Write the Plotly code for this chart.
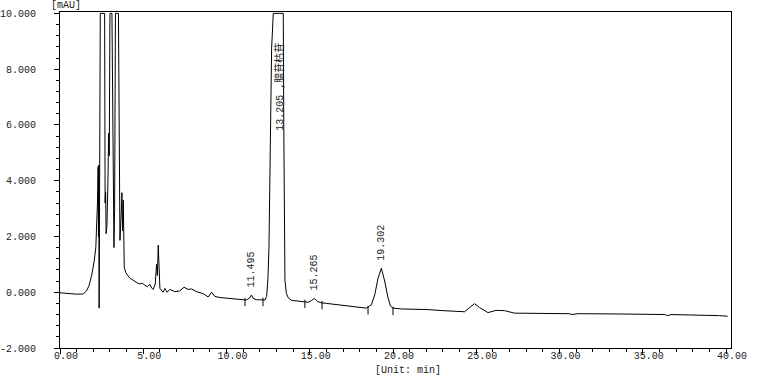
import plotly.graph_objects as go

# Chromatogram trace (time in min, signal in mAU)
time_min = [0.0, 0.5, 1.0, 1.4, 1.6, 1.75, 1.9, 2.05, 2.15, 2.25, 2.29, 2.31, 2.33, 2.35, 2.38,
            2.42, 2.68, 2.71, 2.74, 2.77, 2.82, 2.88, 2.92, 2.96, 3.0, 3.12, 3.18, 3.24, 3.28,
            3.33, 3.51, 3.55, 3.6, 3.66, 3.72, 3.76, 3.8, 3.86, 3.95, 4.05, 4.2, 4.35, 4.5,
            4.65, 4.8, 4.95, 5.1, 5.25, 5.4, 5.5, 5.6, 5.72, 5.8, 5.85, 5.9, 5.95, 6.0,
            6.19, 6.3, 6.43, 6.6, 6.9, 7.2, 7.45, 7.7, 7.9, 8.2, 8.6, 8.9, 9.1, 9.3, 9.6,
            10.2, 10.5, 11.2, 11.4, 11.5, 11.6, 11.8, 12.0, 12.31, 12.41, 12.49, 12.55, 12.61,
            12.71, 12.81, 13.41, 13.44, 13.47, 13.51, 13.6, 13.71, 13.9, 14.5, 14.9, 15.1,
            15.27, 15.45, 15.7, 16.0, 16.5, 17.0, 17.5, 18.0, 18.4, 18.7, 18.9, 19.1, 19.3,
            19.5, 19.7, 19.85, 20.0, 20.5, 21.0, 22.0, 23.0, 24.3, 24.6, 24.9, 25.2, 25.7,
            26.2, 26.7, 27.3, 30.6, 30.75, 31.1, 33.6, 36.3, 36.5, 36.7, 39.6, 39.9, 40.1]
signal_mau = [-0.02, -0.05, -0.07, -0.06, 0.05, 0.25, 0.6, 1.1, 1.6, 3.2, 4.5, 2.0, 4.56, -0.57, 3.5,
              10.0, 10.0, 3.2, 3.6, 2.1, 2.4, 4.0, 5.7, 4.9, 10.0, 10.0, 4.0, 1.6, 3.0,
              10.0, 10.0, 4.0, 1.86, 2.6, 3.57, 2.2, 3.3, 0.9, 0.7, 0.62, 0.5, 0.45, 0.38,
              0.33, 0.3, 0.32, 0.25, 0.2, 0.28, 0.15, 0.1, 0.3, 1.0, 0.6, 1.69, 0.5, 0.14,
              0.0, 0.14, 0.0, 0.1, 0.02, 0.05, 0.18, 0.1, 0.12, 0.02, -0.05, -0.17, 0.0, -0.15, -0.19,
              -0.22, -0.26, -0.28, -0.2, -0.1, -0.22, -0.27, -0.27, -0.28, -0.15, 0.5, 1.6, 4.0,
              8.75, 10.0, 10.0, 6.0, 2.2, 0.43, -0.05, -0.2, -0.29, -0.33, -0.36, -0.3,
              -0.22, -0.33, -0.38, -0.4, -0.44, -0.48, -0.52, -0.55, -0.57, -0.45, -0.1, 0.5, 0.86,
              0.4, -0.2, -0.5, -0.57, -0.6, -0.6, -0.62, -0.66, -0.7, -0.55, -0.41, -0.55, -0.73,
              -0.65, -0.66, -0.75, -0.77, -0.8, -0.77, -0.78, -0.8, -0.84, -0.8, -0.84, -0.86, -0.86]

# Integration event marks (peak start/end)
event_times = [11.11, 12.19, 14.71, 15.74, 18.5, 20.0]
event_levels = [-0.35, -0.35, -0.42, -0.46, -0.65, -0.67]

# Peak labels
peak_times = [11.495, 13.205, 15.265, 19.302]
peak_label_levels = [-0.1, 5.5, -0.22, 0.86]
peak_labels = ["11.495", "13.205 ,腺苷枯苷", "15.265", "19.302"]

x_ticks = [0, 5, 10, 15, 20, 25, 30, 35, 40]
x_tick_text = ["0.00", "5.00", "10.00", "15.00", "20.00", "25.00", "30.00", "35.00", "40.00"]
y_ticks = [-2, 0, 2, 4, 6, 8, 10]
y_tick_text = ["-2.000", "0.000", "2.000", "4.000", "6.000", "8.000", "10.000"]

FONT = "Liberation Mono, DejaVu Sans Mono, Noto Sans CJK SC, monospace"

fig = go.Figure()
fig.add_trace(go.Scatter(x=time_min, y=signal_mau, mode="lines",
                         line=dict(color="black", width=1), hoverinfo="skip", showlegend=False))
fig.add_trace(go.Scatter(x=event_times, y=event_levels, mode="markers",
                         marker=dict(symbol="line-ns", size=6, line=dict(color="black", width=1)),
                         hoverinfo="skip", showlegend=False))

for t, lv, txt in zip(peak_times, peak_label_levels, peak_labels):
    fig.add_annotation(x=t, y=lv, text=txt, textangle=-90, showarrow=False,
                       xanchor="center", yanchor="bottom", yshift=6,
                       font=dict(family=FONT, size=10, color="#222"))

fig.add_annotation(xref="paper", yref="paper", x=0.009, y=1, yshift=7, text="[mAU]",
                   showarrow=False, xanchor="center", yanchor="middle",
                   font=dict(family=FONT, size=10, color="#222"))
fig.add_annotation(xref="paper", yref="paper", x=0.519, y=0, yshift=-22, text="[Unit: min]",
                   showarrow=False, xanchor="center", yanchor="middle",
                   font=dict(family=FONT, size=10, color="#222"))

fig.update_layout(
    width=760, height=381,
    margin=dict(l=60, r=29, t=12, b=33, autoexpand=False),
    paper_bgcolor="white", plot_bgcolor="white",
    font=dict(family=FONT, size=10, color="#222"),
    showlegend=False,
)
fig.update_xaxes(range=[0, 40.3], tickvals=x_ticks, ticktext=x_tick_text, automargin=False,
                 showgrid=False, zeroline=False, showline=True, mirror=True,
                 linecolor="black", linewidth=1, ticks="outside", ticklen=5,
                 tickcolor="black", ticklabelshift=6, ticklabelstandoff=-7,
                 minor=dict(dtick=1, tick0=0, ticks="outside", ticklen=3, tickcolor="black", showgrid=False))
fig.update_yaxes(range=[-2, 10.05], tickvals=y_ticks, ticktext=y_tick_text, automargin=False,
                 showgrid=False, zeroline=False, showline=True, mirror=True,
                 linecolor="black", linewidth=1, ticks="outside", ticklen=5,
                 tickcolor="black", ticklabelstandoff=16,
                 minor=dict(dtick=0.4, tick0=-2, ticks="outside", ticklen=3, tickcolor="black", showgrid=False))

# remove the browser's default 8px body margin so the figure sits at the window origin
fig.write_html("out.html", config={"displayModeBar": False},
               post_script="document.body.style.margin='0';")
